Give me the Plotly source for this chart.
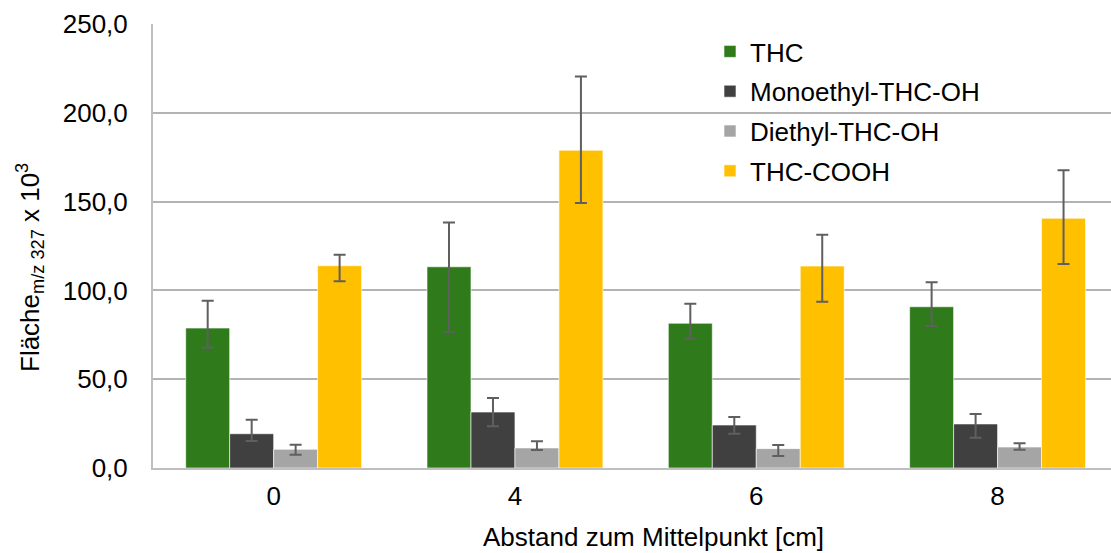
import plotly.graph_objects as go

categories = ["0", "4", "6", "8"]

series_names = ["THC", "Monoethyl-THC-OH", "Diethyl-THC-OH", "THC-COOH"]

thc = [78.8, 113.3, 81.5, 90.8]
thc_plus = [15.4, 25.0, 11.0, 13.8]
thc_minus = [11.1, 36.7, 8.7, 10.8]

mono = [19.3, 31.5, 24.2, 24.8]
mono_plus = [7.9, 7.9, 4.5, 5.6]
mono_minus = [4.1, 8.0, 4.9, 7.7]

di = [10.5, 11.3, 10.9, 11.8]
di_plus = [2.6, 3.7, 2.0, 2.1]
di_minus = [3.0, 1.2, 4.1, 1.5]

cooh = [113.9, 178.9, 113.7, 140.6]
cooh_plus = [6.2, 41.6, 17.7, 27.0]
cooh_minus = [8.8, 29.7, 20.1, 25.7]

colors = ["#2f7b1c", "#404040", "#a5a5a5", "#ffc000"]

values = [thc, mono, di, cooh]
plus = [thc_plus, mono_plus, di_plus, cooh_plus]
minus = [thc_minus, mono_minus, di_minus, cooh_minus]

FONT = "Liberation Sans, Arial, sans-serif"

fig = go.Figure()
for i, name in enumerate(series_names):
    fig.add_trace(go.Bar(
        x=categories, y=values[i], name=name,
        marker=dict(color=colors[i], line=dict(color="rgba(255,255,255,0.6)", width=1)),
        error_y=dict(type="data", symmetric=False, array=plus[i], arrayminus=minus[i],
                     color="#5f5f5f", thickness=2, width=6),
        legendgroup=f"g{i}",
    ))

W, H = 1111, 553
L, R, T, B = 153, 0, 24, 85

fig.update_layout(
    width=W, height=H,
    margin=dict(l=L, r=R, t=T, b=B, pad=0),
    paper_bgcolor="white", plot_bgcolor="white",
    barmode="group", bargap=0.271, bargroupgap=0,
    separators=",.",
    font=dict(family=FONT, size=26, color="#000000"),
    legend=dict(
        x=(710 - L) / (W - L - R), y=(468 - 28) / 444, xanchor="left", yanchor="top",
        font=dict(size=26, color="#000000"), bgcolor="rgba(0,0,0,0)",
        tracegroupgap=3, itemclick=False,
    ),
    xaxis=dict(
        type="category", range=[-0.5, 3.47],
        showline=True, linecolor="#bfbfbf", linewidth=2,
        showgrid=False, ticks="", tickfont=dict(size=26),
        ticklabelstandoff=4,
    ),
    yaxis=dict(
        range=[0, 250], dtick=50, tickformat=".1f",
        showline=True, linecolor="#bfbfbf", linewidth=2,
        showgrid=True, gridcolor="#b3b3b3", gridwidth=2,
        zeroline=False, ticks="", tickfont=dict(size=26),
        ticklabelstandoff=18,
    ),
)

fig.add_annotation(
    text="Abstand zum Mittelpunkt [cm]", xref="paper", yref="paper",
    x=(653 - L) / (W - L - R), y=-(537 - 468) / 444, xanchor="center", yanchor="middle",
    showarrow=False, font=dict(size=26, color="#000000"),
)
fig.add_annotation(
    text="Fläche<sub>m/z 327</sub> x 10<sup>3</sup>", xref="paper", yref="paper",
    x=-(L - 30) / (W - L - R), y=(468 - 268) / 444, xanchor="center", yanchor="middle",
    textangle=-90, showarrow=False, font=dict(size=26, color="#000000"),
)

fig.write_html("out.html")
